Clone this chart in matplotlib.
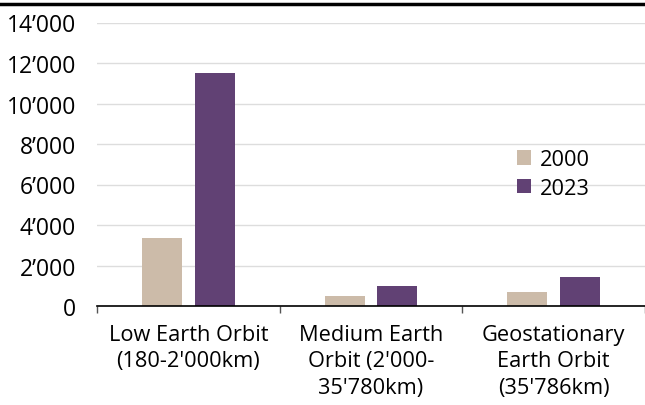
import matplotlib.pyplot as plt
from matplotlib.lines import Line2D
from matplotlib.ticker import FuncFormatter
import numpy as np

plt.rcParams["font.family"] = ["Open Sans", "DejaVu Sans"]

categories = ["Low Earth Orbit\n(180-2'000km)",
              "Medium Earth\nOrbit (2'000-\n35'780km)",
              "Geostationary\nEarth Orbit\n(35'786km)"]
years = ["2000", "2023"]
values_2000 = [3350, 500, 700]
values_2023 = [11500, 1000, 1430]
colors = ["#CCBBA9", "#614174"]

fig = plt.figure(figsize=(6.45, 4.06), dpi=100)
ax = fig.add_axes([97 / 645, 99 / 406, 548 / 645, 283.5 / 406])

x = np.arange(len(categories))
off = 0.144
w = 0.219
ax.bar(x - off, values_2000, w, color=colors[0], label=years[0], zorder=3)
ax.bar(x + off, values_2023, w, color=colors[1], label=years[1], zorder=3)

ax.set_xlim(-0.5, 2.5)
ax.set_ylim(0, 14000)
ax.set_yticks(range(0, 14001, 2000))
ax.yaxis.set_major_formatter(FuncFormatter(lambda v, p: f"{int(v):,}".replace(",", "\u2019")))
ax.grid(axis="y", color="#DDDDDD", linewidth=1, zorder=0)

ax.set_xticks(x)
ax.set_xticklabels(categories, fontsize=15.7, linespacing=1.33)
ax.set_xticks([-0.5, 0.5, 1.5, 2.5], minor=True)
ax.tick_params(axis="x", which="major", length=0, pad=13)
ax.tick_params(axis="x", which="minor", length=5, width=1, color="#555555")
ax.tick_params(axis="y", length=0, labelsize=16.5, pad=15)

for s in ["top", "right", "left"]:
    ax.spines[s].set_visible(False)
ax.spines["bottom"].set_color("black")
ax.spines["bottom"].set_linewidth(1.2)
ax.spines["bottom"].set_zorder(4)

ax.legend(loc="center left", bbox_to_anchor=(508 / 645, 1 - 175 / 406),
          bbox_transform=fig.transFigure, frameon=False, fontsize=15.7,
          handlelength=0.65, handleheight=0.65, handletextpad=0.4,
          labelspacing=0.35, borderaxespad=0)

fig.add_artist(Line2D([0, 1], [1 - 5 / 406, 1 - 5 / 406], color="black",
                      linewidth=2.5, transform=fig.transFigure))

fig.savefig("out.png", dpi=100)
